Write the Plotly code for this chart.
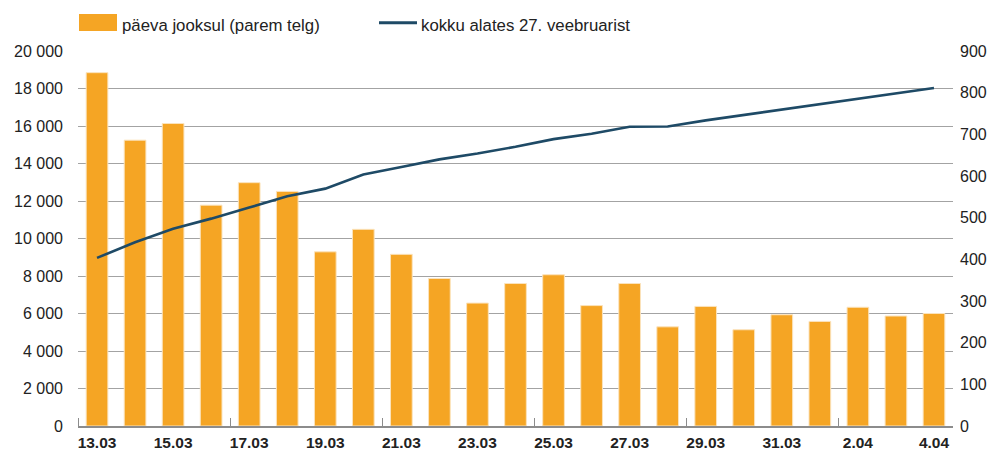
import plotly.graph_objects as go

# ---- data ----
dates = ["13.03", "14.03", "15.03", "16.03", "17.03", "18.03", "19.03", "20.03",
         "21.03", "22.03", "23.03", "24.03", "25.03", "26.03", "27.03", "28.03",
         "29.03", "30.03", "31.03", "1.04", "2.04", "3.04", "4.04"]
daily = [848, 686, 726, 530, 584, 563, 418, 472, 412, 354, 295, 342,
         363, 289, 342, 238, 287, 231, 267, 251, 285, 264, 270]
cumulative = [8965, 9800, 10520, 11060, 11650, 12250, 12660, 13410, 13810, 14220,
              14530, 14890, 15300, 15590, 15960, 15975, 16300, 16590, 16880,
              17170, 17460, 17750, 18030]
bar_name = "päeva jooksul (parem telg)"
line_name = "kokku alates 27. veebruarist"
left_max, left_step = 20000, 2000
right_max, right_step = 900, 100
left_ticks = list(range(0, left_max + 1, left_step))
right_ticks = list(range(0, right_max + 1, right_step))

idx = list(range(len(dates)))
label_idx = idx[::2]
label_text = [dates[i] for i in label_idx]
boundary_ticks = [i - 0.5 for i in idx[::4]]
# gridlines belong to the left scale; expressed on the right (bar) scale
grid_on_right = [v * right_max / left_max for v in left_ticks]

FONT = "Liberation Sans, Arial, Helvetica, sans-serif"
ORANGE = "#F5A524"
NAVY = "#1E4A66"
TXT = "#222222"
GRID = "#a3a3a3"

# plot area geometry in pixels
W, H = 991, 450
L, R, T, B = 78, 38, 51, 24
pw, ph = W - L - R, H - T - B


def px_x(x):
    return (x - L) / pw


def px_y(y):
    return (H - B - y) / ph


fig = go.Figure()
fig.add_trace(go.Bar(
    x=idx, y=daily, name=bar_name, yaxis="y",
    marker=dict(color=ORANGE, line=dict(color="#FBE3BC", width=1)),
    width=0.57, showlegend=False,
))
fig.add_trace(go.Scatter(
    x=idx, y=cumulative, name=line_name, yaxis="y2", mode="lines",
    line=dict(color=NAVY, width=2.6), showlegend=False,
))

fig.update_layout(
    width=W, height=H,
    margin=dict(l=L, r=R, t=T, b=B),
    paper_bgcolor="white", plot_bgcolor="white",
    separators=", ",
    font=dict(family=FONT, size=16, color=TXT),
    xaxis=dict(
        range=[-0.5, len(dates) - 0.5],
        tickmode="array", tickvals=label_idx, ticktext=label_text,
        ticks="", showgrid=False, zeroline=False,
        showline=True, linecolor="#8c8c8c", linewidth=1.5,
        tickfont=dict(family=FONT, size=15.5, color=TXT, weight="bold"),
        ticklabelstandoff=2,
        minor=dict(tickmode="array", tickvals=boundary_ticks, ticks="inside",
                   ticklen=8, tickcolor="#8c8c8c", tickwidth=1.2, showgrid=False),
        automargin=False, fixedrange=True,
    ),
    # right axis: daily bars (base layer, carries the gridlines)
    yaxis=dict(
        range=[0, right_max], tickmode="array", tickvals=right_ticks,
        side="right", showgrid=False, zeroline=False, ticks="", showline=False,
        minor=dict(tickmode="array", tickvals=grid_on_right, showgrid=True,
                   gridcolor=GRID, gridwidth=1, ticks=""),
        tickfont=dict(family=FONT, size=16, color=TXT),
        ticklabelstandoff=6,
        automargin=False, fixedrange=True,
    ),
    # left axis: cumulative line (drawn above bars)
    yaxis2=dict(
        range=[0, left_max], tickmode="array", tickvals=left_ticks,
        tickformat=",d", overlaying="y", side="left",
        showgrid=False, zeroline=False, ticks="", showline=False,
        tickfont=dict(family=FONT, size=16, color=TXT),
        ticklabelstandoff=14,
        automargin=False, fixedrange=True,
    ),
)

# manual legend
fig.add_shape(type="rect", xref="paper", yref="paper",
              x0=px_x(79), x1=px_x(117), y0=px_y(31), y1=px_y(14),
              fillcolor=ORANGE, line=dict(width=0))
fig.add_shape(type="line", xref="paper", yref="paper",
              x0=px_x(379), x1=px_x(417), y0=px_y(22.7), y1=px_y(22.7),
              line=dict(color=NAVY, width=3))
fig.add_annotation(xref="paper", yref="paper", x=px_x(120), y=px_y(25),
                   text=bar_name, showarrow=False, xanchor="left", yanchor="middle",
                   font=dict(family=FONT, size=16.8, color=TXT))
fig.add_annotation(xref="paper", yref="paper", x=px_x(419), y=px_y(25),
                   text=line_name, showarrow=False, xanchor="left", yanchor="middle",
                   font=dict(family=FONT, size=16.8, color=TXT))

fig.write_html(
    "out.html",
    config={"displayModeBar": False},
    post_script="document.body.style.margin='0';document.body.style.overflow='hidden';",
)
